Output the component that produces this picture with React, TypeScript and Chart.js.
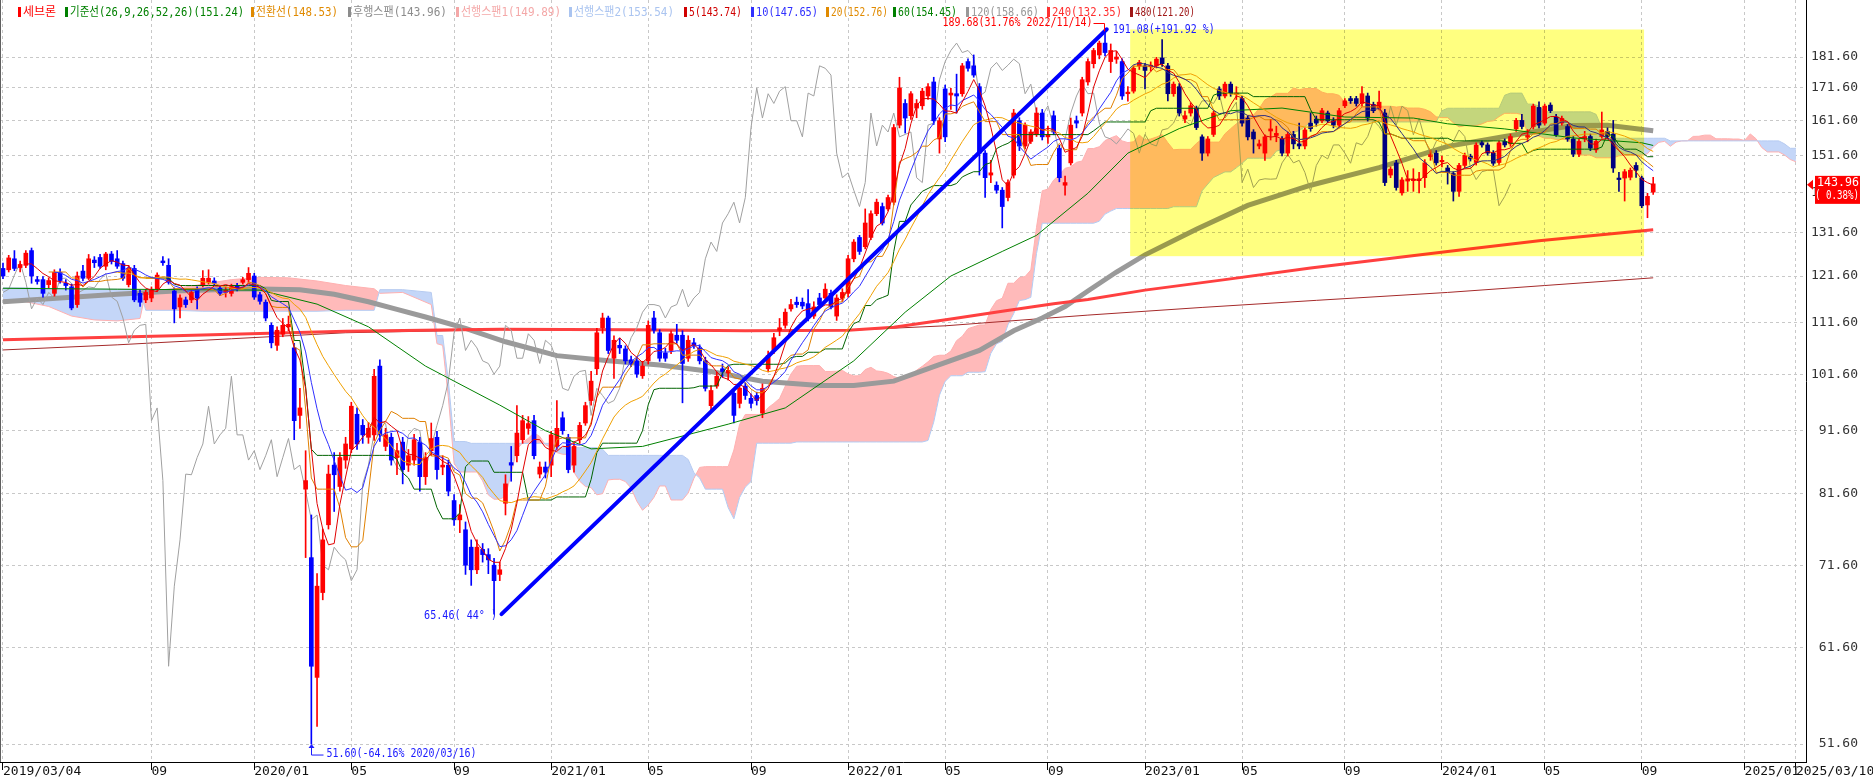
import React, { useEffect, useRef } from "react";
import { Chart, registerables } from "chart.js";

Chart.register(...registerables);

// ---- weekly candles (index 0 = 2019/03/04) ----
const OPEN = [
  123.3, 123.0, 125.5, 123.5, 124.0, 127.4, 120.8, 120.8, 119.7, 117.8,
  122.4, 120.0, 119.2, 115.4, 122.7, 121.1, 125.2, 125.8, 123.8, 126.6,
  125.5, 124.4, 119.7, 123.3, 117.8, 116.4, 116.8, 118.7, 125.0, 124.0,
  118.3, 114.9, 116.4, 116.4, 118.7, 119.7, 120.2, 120.5, 118.9, 118.0,
  117.8, 119.4, 120.2, 120.8, 121.6, 117.5, 115.9, 111.1, 107.1, 109.3,
  110.8, 106.6, 94.2, 82.3, 72.6, 58.3, 68.1, 77.1, 86.0, 82.7,
  86.8, 88.6, 94.4, 92.5, 90.5, 90.9, 103.1, 89.0, 90.5, 87.2,
  89.7, 86.0, 86.8, 89.7, 84.2, 88.3, 90.5, 85.7, 86.0, 80.6,
  77.8, 76.4, 74.0, 71.0, 73.7, 73.0, 71.6, 70.4, 80.2, 86.4,
  87.5, 90.1, 92.0, 93.3, 84.6, 85.7, 86.0, 89.0, 93.8, 90.5,
  86.0, 90.1, 92.9, 96.8, 102.6, 110.6, 112.6, 104.6, 107.1, 106.4,
  104.3, 104.1, 101.3, 104.1, 112.6, 109.6, 105.6, 106.1, 109.1, 109.1,
  104.6, 107.6, 106.6, 104.1, 95.9, 99.4, 102.6, 101.8, 98.1, 96.3,
  99.4, 97.2, 97.7, 94.6, 102.6, 106.1, 110.1, 111.1, 114.5, 115.9,
  115.9, 115.6, 113.0, 116.8, 116.8, 117.8, 113.0, 116.8, 117.8, 125.5,
  130.5, 128.3, 130.5, 136.3, 138.1, 137.5, 139.2, 160.3, 166.8, 163.1,
  165.4, 166.1, 169.1, 173.5, 156.3, 171.3, 169.4, 169.8, 169.8, 180.1,
  178.7, 172.0, 152.3, 146.3, 143.6, 142.3, 140.4, 146.3, 161.6, 154.3,
  155.6, 157.6, 163.9, 156.9, 163.1, 153.6, 143.6, 149.6, 161.6, 163.9,
  173.5, 179.4, 182.3, 186.3, 180.1, 180.9, 180.1, 169.8, 170.6, 178.7,
  178.7, 178.4, 178.7, 181.3, 178.7, 169.8, 172.0, 162.1, 163.9, 165.4,
  156.9, 152.3, 157.6, 171.3, 169.1, 172.8, 169.6, 168.3, 162.4, 158.3,
  154.3, 152.3, 158.6, 157.3, 156.3, 152.3, 157.6, 154.9, 154.3, 160.9,
  162.1, 161.6, 163.9, 161.6, 160.3, 166.1, 168.3, 168.3, 166.8, 169.1,
  166.5, 165.4, 163.9, 146.3, 149.6, 141.6, 144.7, 144.8, 144.8, 145.6,
  151.3, 152.3, 149.9, 148.2, 146.7, 142.0, 148.9, 151.4, 149.7, 155.2,
  154.6, 152.3, 149.7, 155.6, 154.9, 159.2, 161.7, 156.8, 159.9, 165.6,
  160.9, 166.3, 162.7, 160.9, 159.9, 156.3, 152.0, 156.3, 157.0, 153.2,
  157.0, 158.5, 157.7, 145.5, 145.5, 145.7, 148.9, 145.5, 138.5, 141.8,
];
const HIGH = [
  124.5, 126.3, 127.4, 125.0, 127.4, 128.0, 121.5, 121.5, 121.2, 123.0,
  123.2, 120.8, 119.8, 122.5, 124.0, 126.5, 126.0, 126.5, 127.0, 127.2,
  127.4, 125.0, 124.0, 124.0, 118.5, 118.6, 119.2, 122.3, 126.0, 125.5,
  119.0, 117.5, 117.0, 118.5, 119.2, 122.8, 123.0, 121.2, 119.5, 119.2,
  119.8, 120.0, 121.3, 123.5, 122.2, 118.0, 116.4, 111.6, 110.8, 112.5,
  113.0, 107.5, 99.0, 88.3, 78.5, 70.5, 76.5, 86.0, 88.0, 88.0,
  90.5, 96.5, 95.5, 93.5, 93.0, 102.5, 104.3, 92.0, 91.2, 89.5,
  90.5, 88.5, 91.0, 90.5, 88.0, 92.9, 91.5, 87.5, 86.8, 81.5,
  80.0, 77.5, 75.0, 75.0, 74.5, 73.8, 72.5, 72.0, 84.5, 89.0,
  95.9, 94.2, 94.0, 94.2, 86.5, 86.5, 91.5, 96.8, 94.8, 91.0,
  89.5, 93.0, 96.5, 102.1, 110.5, 113.6, 113.0, 109.0, 108.5, 107.0,
  105.0, 104.8, 104.0, 112.0, 114.0, 110.2, 106.5, 110.0, 111.3, 110.0,
  109.0, 108.5, 107.2, 104.8, 99.5, 102.0, 103.5, 103.0, 99.0, 99.8,
  100.0, 98.0, 98.3, 99.8, 106.0, 109.5, 112.5, 114.5, 116.5, 117.0,
  116.8, 118.6, 116.0, 117.8, 119.9, 118.5, 117.5, 118.8, 126.3, 130.0,
  131.0, 137.5, 137.0, 140.0, 139.0, 141.0, 160.5, 175.0, 168.0, 170.5,
  168.0, 171.5, 173.0, 175.0, 162.5, 172.5, 171.5, 176.0, 179.5, 181.0,
  182.3, 173.0, 153.0, 150.3, 144.5, 143.0, 145.0, 165.0, 162.5, 161.0,
  159.0, 165.5, 165.0, 160.0, 164.5, 154.5, 146.0, 162.4, 163.0, 175.0,
  181.0, 184.5, 187.0, 189.68, 186.0, 183.5, 181.0, 172.0, 178.7, 180.5,
  179.5, 180.0, 181.5, 187.5, 179.5, 173.5, 173.0, 164.5, 167.0, 166.0,
  157.5, 157.0, 164.5, 172.0, 173.5, 173.5, 172.0, 169.0, 163.0, 159.0,
  156.0, 157.5, 162.0, 160.0, 157.0, 158.3, 158.5, 160.9, 159.5, 163.9,
  163.0, 165.3, 164.5, 162.5, 165.3, 168.3, 169.0, 169.0, 172.0, 170.0,
  167.2, 170.6, 165.0, 148.5, 150.3, 145.6, 147.5, 148.0, 147.0, 150.5,
  153.0, 153.0, 151.5, 148.9, 147.2, 149.5, 152.3, 152.0, 155.2, 155.8,
  155.2, 153.0, 155.8, 156.3, 157.7, 162.3, 163.5, 159.0, 166.6, 167.3,
  166.6, 167.0, 163.5, 163.0, 160.5, 157.0, 156.3, 158.5, 157.7, 156.3,
  164.2, 159.5, 161.7, 147.0, 147.8, 148.2, 149.7, 146.0, 141.5, 145.7,
];
const LOW = [
  121.0, 122.5, 122.8, 122.5, 123.5, 120.0, 119.8, 117.0, 119.0, 117.2,
  120.0, 118.5, 114.3, 114.8, 120.5, 120.8, 123.5, 123.3, 123.0, 124.3,
  123.3, 120.6, 119.2, 116.0, 115.0, 115.8, 116.0, 118.2, 124.0, 119.8,
  111.6, 112.6, 114.8, 115.8, 114.5, 119.2, 119.8, 119.5, 117.3, 117.0,
  117.2, 118.3, 119.8, 120.2, 116.5, 115.5, 112.0, 106.6, 106.1, 108.8,
  110.0, 90.1, 92.0, 72.6, 51.6, 53.3, 67.2, 76.5, 79.0, 82.0,
  85.5, 88.0, 88.5, 89.5, 89.5, 90.0, 89.8, 88.3, 86.0, 84.5,
  83.1, 85.0, 86.0, 82.0, 83.0, 87.5, 83.8, 84.5, 81.3, 77.0,
  76.0, 70.4, 69.0, 70.5, 72.0, 70.5, 65.46, 69.6, 78.5, 83.5,
  86.5, 89.5, 91.0, 87.0, 84.0, 84.0, 84.2, 88.5, 91.0, 84.8,
  84.9, 89.5, 92.5, 96.0, 101.5, 109.5, 105.5, 100.8, 105.5, 103.5,
  103.0, 101.0, 100.8, 103.5, 109.5, 104.0, 104.0, 105.5, 107.5, 96.4,
  104.0, 106.5, 103.5, 98.5, 95.0, 99.0, 101.0, 100.5, 92.9, 95.5,
  97.0, 95.5, 96.0, 93.8, 102.0, 105.5, 109.0, 110.5, 114.0, 114.8,
  114.5, 112.0, 112.5, 114.8, 116.0, 114.5, 112.1, 116.0, 117.0, 124.8,
  126.5, 127.8, 130.0, 135.8, 133.5, 137.0, 138.5, 159.5, 158.0, 162.0,
  162.5, 165.0, 168.0, 160.5, 152.3, 155.5, 165.0, 163.9, 169.0, 177.0,
  175.0, 146.3, 140.4, 144.3, 141.5, 132.8, 139.5, 145.5, 153.0, 153.5,
  155.0, 157.0, 156.0, 155.0, 157.5, 144.5, 141.0, 149.0, 159.5, 163.0,
  172.5, 178.0, 181.0, 182.0, 176.5, 179.5, 168.0, 167.5, 170.0, 177.5,
  171.3, 177.0, 178.0, 178.5, 167.6, 169.0, 163.0, 161.0, 163.0, 159.0,
  150.3, 151.5, 157.0, 168.0, 168.5, 169.0, 168.0, 160.0, 156.0, 152.3,
  153.5, 150.3, 156.0, 155.5, 151.5, 151.5, 153.5, 153.5, 153.5, 158.5,
  160.0, 161.0, 161.0, 159.5, 159.5, 165.5, 166.8, 166.0, 166.0, 161.5,
  164.0, 164.8, 143.5, 145.6, 142.3, 141.0, 142.0, 142.0, 141.6, 143.0,
  150.3, 149.0, 148.5, 143.9, 139.5, 140.7, 148.2, 150.1, 149.0, 154.0,
  151.7, 148.9, 149.0, 154.0, 154.2, 158.5, 159.2, 155.5, 159.2, 159.5,
  160.3, 164.0, 157.0, 160.3, 155.6, 151.3, 151.3, 155.5, 153.0, 152.5,
  156.5, 156.3, 147.0, 142.0, 139.5, 145.0, 145.7, 137.8, 135.3, 141.2,
];
const CLOSE = [
  121.6, 125.7, 123.3, 124.2, 126.8, 121.6, 120.4, 117.8, 120.6, 122.4,
  120.6, 119.5, 114.7, 121.6, 121.1, 125.5, 124.6, 123.8, 126.6, 124.9,
  123.8, 121.1, 123.3, 116.4, 115.9, 118.0, 118.7, 121.8, 124.6, 120.2,
  114.5, 116.8, 115.4, 118.0, 116.8, 121.1, 121.1, 120.0, 117.8, 118.5,
  119.2, 119.0, 120.8, 122.2, 117.0, 116.1, 112.6, 107.6, 110.1, 111.1,
  111.3, 93.3, 95.5, 83.6, 59.5, 68.9, 75.0, 84.6, 84.5, 87.2,
  89.4, 95.8, 89.4, 90.9, 92.0, 101.2, 90.9, 90.9, 86.8, 88.3,
  85.3, 87.5, 90.1, 84.2, 87.2, 90.3, 85.3, 86.0, 82.0, 77.8,
  78.5, 71.6, 71.0, 74.0, 73.0, 72.3, 69.6, 71.0, 83.1, 86.0,
  91.2, 93.3, 92.8, 87.5, 85.7, 84.9, 90.9, 92.0, 91.6, 85.3,
  89.0, 92.5, 95.9, 100.3, 109.6, 112.6, 106.1, 108.1, 106.6, 104.1,
  103.6, 101.6, 103.1, 111.1, 110.1, 104.6, 104.6, 109.4, 108.1, 103.6,
  108.1, 107.1, 104.1, 99.0, 98.6, 101.2, 102.1, 102.3, 94.2, 99.0,
  97.7, 96.3, 96.8, 99.0, 105.1, 108.6, 110.6, 113.8, 115.4, 115.4,
  115.1, 112.6, 114.9, 115.4, 118.7, 114.9, 116.8, 118.0, 125.5, 129.4,
  127.2, 134.0, 136.3, 139.2, 134.0, 140.4, 159.6, 171.6, 162.4, 169.8,
  166.8, 170.6, 172.0, 161.6, 161.6, 156.9, 170.0, 169.1, 178.7, 177.9,
  175.7, 152.3, 145.6, 146.9, 142.3, 138.1, 144.3, 163.9, 154.3, 160.3,
  158.3, 163.9, 156.9, 157.6, 158.3, 145.6, 144.3, 160.3, 160.9, 174.2,
  180.1, 183.8, 186.3, 183.1, 183.8, 181.6, 169.1, 170.3, 177.9, 179.8,
  177.2, 178.9, 180.9, 179.4, 169.8, 172.8, 163.9, 163.1, 166.1, 159.6,
  152.3, 156.3, 163.9, 169.1, 172.8, 169.8, 170.0, 160.9, 156.9, 156.3,
  154.9, 156.9, 159.2, 157.9, 152.3, 157.6, 154.9, 154.3, 158.9, 159.3,
  160.9, 164.6, 161.6, 160.3, 164.6, 167.6, 167.6, 166.8, 169.8, 162.4,
  164.6, 167.2, 144.3, 147.9, 143.0, 145.0, 145.3, 145.2, 145.3, 149.6,
  151.9, 149.6, 150.3, 147.0, 142.0, 148.9, 151.7, 150.7, 154.6, 154.6,
  152.3, 149.5, 155.2, 154.6, 157.0, 161.7, 159.9, 157.3, 166.0, 160.3,
  166.0, 164.6, 157.5, 162.3, 156.3, 152.0, 155.6, 157.0, 153.7, 155.6,
  158.9, 157.0, 148.2, 145.1, 147.2, 147.6, 147.6, 138.3, 140.7, 143.96,
];

// ---- long moving averages: [week index, value] ----
const MA60_PTS = [
  [0, 118.9], [20, 118.7], [45, 118.5], [55, 115.5], [64, 110.8], [74, 103.1], [87, 96.0],
  [95, 91.6], [103, 88.6], [112, 89.0], [121, 91.2], [127, 92.7], [137, 95.5], [149, 104.1],
  [158, 113.8], [166, 121.6], [175, 127.2], [181, 131.0], [190, 141.5], [197, 152.3],
  [206, 159.3], [215, 164.6], [224, 165.4], [235, 162.7], [247, 162.4], [253, 160.7],
  [263, 159.2], [275, 156.6], [287, 155.2], [289, 154.45],
];
const MA120_PTS = [
  [0, 116.0], [10, 116.8], [20, 117.6], [30, 118.3], [43, 118.8], [52, 118.6], [58, 117.6],
  [64, 116.0], [69, 114.4], [74, 112.8], [81, 110.5], [88, 107.8], [97, 105.1], [106, 104.1],
  [115, 103.3], [124, 102.1], [133, 100.3], [143, 99.5], [149, 99.5], [156, 100.3],
  [163, 103.0], [171, 106.1], [177, 110.0], [182, 112.6], [186, 115.0], [190, 118.3],
  [195, 122.5], [200, 126.4], [209, 132.5], [218, 138.4], [229, 143.6], [241, 148.3],
  [253, 154.2], [263, 157.0], [275, 160.2], [281, 160.3], [289, 158.66],
];
const MA240_PTS = [
  [0, 108.2], [30, 109.0], [60, 109.9], [87, 110.3], [110, 110.2], [130, 110.0], [148, 110.1],
  [156, 110.7], [166, 112.4], [175, 114.0], [184, 115.6], [190, 116.5], [200, 118.5],
  [214, 120.8], [229, 123.4], [241, 125.3], [253, 127.2], [269, 129.7], [289, 132.35],
];
const MA480_PTS = [
  [0, 106.2], [20, 107.2], [40, 108.4], [60, 109.6], [87, 110.2], [120, 110.0], [148, 110.1],
  [165, 111.0], [190, 113.2], [210, 114.8], [230, 116.3], [253, 118.0], [270, 119.5], [289, 121.2],
];

// leading spans before enough history exists
const SPAN_EARLY_X = [0, 4, 8, 12, 16, 20, 24, 25, 30, 35, 40, 45, 50, 55, 60, 65, 66, 70, 75];
const SPAN1_EARLY = [116.5, 116.0, 115.0, 113.0, 112.2, 112.0, 112.5, 118.2, 118.8, 119.8, 120.8, 121.3, 121.2, 120.5, 119.5, 118.8, 117.8, 118.0, 115.4];
const SPAN2_EARLY = [119.0, 119.0, 118.8, 118.8, 118.7, 118.7, 118.6, 114.2, 114.2, 114.0, 114.0, 114.0, 114.0, 114.0, 114.2, 114.2, 118.6, 118.6, 118.0];

// ---- axes ----
const X_TICKS = [0, 26, 44, 61, 79, 96, 113, 131, 148, 165, 183, 200, 217, 235, 252, 270, 287, 305, 314];
const X_TICK_LABELS = ["2019/03/04", "09", "2020/01", "05", "09", "2021/01", "05", "09", "2022/01", "05", "09", "2023/01", "05", "09", "2024/01", "05", "09", "2025/01", "2025/03/10"];
const Y_TICKS = [51.6, 61.6, 71.6, 81.6, 91.6, 101.6, 111.6, 121.6, 131.6, 141.6, 151.6, 161.6, 171.6, 181.6];
const X_RANGE = [-0.525, 315.76];
const Y_RANGE = [49.93, 201.6];

// ---- drawings ----
const TREND_X = [87.3, 193.3];
const TREND_Y = [65.46, 191.08];
const BOX_X = [197.4, 287.4];
const BOX_Y = [126.1, 191.0];
const LOW_NOTE = { i: 54, value: 51.6, text: "51.60(-64.16% 2020/03/16)" };
const START_NOTE = { i: 86, value: 65.46, text: "65.46( 44° )" };
const HIGH_NOTE = { i: 193, value: 189.68, text: "189.68(31.76% 2022/11/14)" };
const END_NOTE = { text: "191.08(+191.92 %)" };
const CHANGE_TEXT = "( 0.38%)";

const LEGEND_TEXT = [
  "세브론", "기준선(26,9,26,52,26)(151.24)", "전환선(148.53)", "후행스팬(143.96)",
  "선행스팬1(149.89)", "선행스팬2(153.54)", "5(143.74)", "10(147.65)", "20(152.76)",
  "60(154.45)", "120(158.66)", "240(132.35)", "480(121.20)",
];
const LEGEND_COLOR = [
  "#ff0000", "#008000", "#e08a00", "#8c8c8c", "#f4a8a8", "#aac4f0", "#d00000", "#3030ff",
  "#e08a00", "#008000", "#999999", "#ff3030", "#a01818",
];
const LEGEND_LEFT = [18, 65, 251, 348, 456, 569, 684, 751, 826, 893, 966, 1047, 1130];
const LEGEND_WIDTH = [33, 174, 82, 94, 100, 100, 53, 62, 57, 59, 68, 70, 60];

const C_UP = "#ff0000";
const C_DOWN = "#0000ff";
const MONO = "'DejaVu Sans Mono', 'Noto Sans CJK KR', monospace";

function movingAverage(n: number) {
  const pts: { x: number; y: number }[] = [];
  for (let i = n - 1; i < CLOSE.length; i++) {
    let s = 0;
    for (let k = i - n + 1; k <= i; k++) s += CLOSE[k];
    pts.push({ x: i, y: s / n });
  }
  return pts;
}
function midRange(end: number, n: number) {
  let hi = -Infinity;
  let lo = Infinity;
  for (let k = end - n + 1; k <= end; k++) {
    hi = Math.max(hi, HIGH[k]);
    lo = Math.min(lo, LOW[k]);
  }
  return (hi + lo) / 2;
}
const toPts = (arr: number[][]) => arr.map(([x, y]) => ({ x, y }));

function buildDatasets() {
  const n = CLOSE.length;
  const colors = CLOSE.map((c, i) => (c >= OPEN[i] ? C_UP : C_DOWN));
  const tenkan: { x: number; y: number }[] = [];
  const kijun: { x: number; y: number }[] = [];
  const lagging: { x: number; y: number }[] = [];
  for (let i = 8; i < n; i++) tenkan.push({ x: i, y: midRange(i, 9) });
  for (let i = 25; i < n; i++) kijun.push({ x: i, y: midRange(i, 26) });
  for (let i = 25; i < n; i++) lagging.push({ x: i - 25, y: CLOSE[i] });
  const span1 = SPAN_EARLY_X.map((x, k) => ({ x, y: SPAN1_EARLY[k] }));
  const span2 = SPAN_EARLY_X.map((x, k) => ({ x, y: SPAN2_EARLY[k] }));
  for (let s = 51; s < n; s++) {
    span1.push({ x: s + 25, y: (midRange(s, 9) + midRange(s, 26)) / 2 });
    span2.push({ x: s + 25, y: midRange(s, 52) });
  }
  const line = (data: any, color: string, width: number, order: number, extra: any = {}) => ({
    type: "line", data, borderColor: color, borderWidth: width, pointRadius: 0,
    tension: 0, fill: false, order, ...extra,
  });
  return [
    line(span1, "#ffb0b0", 1, 100, { fill: { target: "+1", above: "rgb(255,186,186)", below: "rgb(196,214,248)" } }),
    line(span2, "#b4cbf2", 1, 99),
    line(toPts(MA480_PTS), "#a52a2a", 1, 92),
    line(toPts(MA120_PTS), "#9a9a9a", 5, 91),
    line(toPts(MA240_PTS), "#ff4040", 3, 90),
    line(lagging, "#a0a0a0", 1, 88),
    {
      type: "bar", data: CLOSE.map((_, i) => ({ x: i, y: [LOW[i], HIGH[i]] })),
      backgroundColor: colors, barThickness: 1, grouped: false, order: 50, borderWidth: 0,
    },
    {
      type: "bar", data: CLOSE.map((c, i) => ({ x: i, y: [OPEN[i], c] })),
      backgroundColor: colors, barThickness: 4, grouped: false, order: 49, borderWidth: 0, minBarLength: 1,
    },
    line(toPts(MA60_PTS), "#008000", 1, 20),
    line(kijun, "#006400", 1, 19),
    line(tenkan, "#e08000", 1, 18),
    line(movingAverage(20), "#f0a000", 1, 17),
    line(movingAverage(10), "#3030ff", 1, 16),
    line(movingAverage(5), "#e00000", 1, 15),
    line(TREND_X.map((x, k) => ({ x, y: TREND_Y[k] })), "#0000ff", 4, 1, { borderCapStyle: "round" }),
  ];
}

const decorPlugin = {
  id: "decor",
  afterDatasetsDraw(chart: any) {
    const { ctx, chartArea, scales } = chart;
    const xs = scales.x;
    const ys = scales.y;
    ctx.save();
    ctx.globalCompositeOperation = "multiply";
    ctx.fillStyle = "#ffff80";
    const x0 = xs.getPixelForValue(BOX_X[0]);
    const x1 = xs.getPixelForValue(BOX_X[1]);
    const y0 = ys.getPixelForValue(BOX_Y[1]);
    const y1 = ys.getPixelForValue(BOX_Y[0]);
    ctx.fillRect(x0, y0, x1 - x0, y1 - y0);
    ctx.restore();
    ctx.save();
    ctx.strokeStyle = "#606060";
    ctx.lineWidth = 1;
    ctx.beginPath();
    ctx.moveTo(chartArea.left + 0.5, chartArea.top);
    ctx.lineTo(chartArea.left + 0.5, chartArea.bottom);
    ctx.stroke();
    ctx.restore();
  },
  afterDraw(chart: any) {
    const { ctx, chartArea, scales } = chart;
    const xs = scales.x;
    const ys = scales.y;
    ctx.save();
    ctx.font = `12.5px ${MONO}`;
    ctx.textBaseline = "middle";

    // legend
    LEGEND_TEXT.forEach((t, k) => {
      ctx.fillStyle = LEGEND_COLOR[k];
      ctx.fillRect(LEGEND_LEFT[k], 7, 3, 10);
      ctx.textAlign = "left";
      ctx.fillText(t, LEGEND_LEFT[k] + 5, 12.5, LEGEND_WIDTH[k]);
    });

    // low note
    const blue = "#1a1aff";
    const lx = Math.round(xs.getPixelForValue(LOW_NOTE.i)) + 0.5;
    const ly = ys.getPixelForValue(LOW_NOTE.value);
    ctx.strokeStyle = blue;
    ctx.fillStyle = blue;
    ctx.lineWidth = 1;
    ctx.beginPath();
    ctx.moveTo(lx, ly + 3);
    ctx.lineTo(lx, ly + 11);
    ctx.lineTo(lx + 12, ly + 11);
    ctx.stroke();
    ctx.beginPath();
    ctx.moveTo(lx, ly);
    ctx.lineTo(lx - 3, ly + 4);
    ctx.lineTo(lx + 3, ly + 4);
    ctx.closePath();
    ctx.fill();
    ctx.textAlign = "left";
    ctx.fillText(LOW_NOTE.text, lx + 15, ly + 10, 150);

    // trend start note
    const sx = xs.getPixelForValue(START_NOTE.i);
    const sy = ys.getPixelForValue(START_NOTE.value);
    ctx.textAlign = "right";
    ctx.fillText(START_NOTE.text, sx + 3, sy + 2, 73);

    // trend end note
    const ex = xs.getPixelForValue(TREND_X[1]);
    const ey = ys.getPixelForValue(TREND_Y[1]);
    ctx.textAlign = "left";
    ctx.fillText(END_NOTE.text, ex + 6, ey, 102);

    // high note (red)
    const hx = Math.round(xs.getPixelForValue(HIGH_NOTE.i)) - 0.5;
    const hy = ys.getPixelForValue(HIGH_NOTE.value);
    ctx.fillStyle = "#ff0000";
    ctx.strokeStyle = "#ff0000";
    ctx.textAlign = "right";
    ctx.fillText(HIGH_NOTE.text, hx - 12, hy - 10.5, 150);
    ctx.beginPath();
    ctx.moveTo(hx - 11, Math.round(hy - 10.5) + 0.5);
    ctx.lineTo(hx, Math.round(hy - 10.5) + 0.5);
    ctx.lineTo(hx, hy - 2);
    ctx.stroke();

    // last price tag
    const last = CLOSE[CLOSE.length - 1];
    const py = ys.getPixelForValue(last);
    const r = chartArea.right;
    ctx.fillStyle = "#ff0000";
    ctx.beginPath();
    ctx.moveTo(r + 1, py + 1);
    ctx.lineTo(r + 7, py - 4);
    ctx.lineTo(r + 7, py + 6);
    ctx.closePath();
    ctx.fill();
    ctx.fillRect(r + 9, py - 8, 45, 28);
    ctx.fillStyle = "#ffffff";
    ctx.textAlign = "right";
    ctx.font = `12px ${MONO}`;
    ctx.fillText(last.toFixed(2), r + 53, py - 1, 42);
    ctx.fillText(CHANGE_TEXT, r + 53, py + 12, 44);
    ctx.restore();
  },
};

export default function App() {
  const ref = useRef<HTMLCanvasElement | null>(null);
  useEffect(() => {
    if (!ref.current) return;
    const chart = new Chart(ref.current, {
      type: "line",
      data: { datasets: buildDatasets() as any },
      options: {
        animation: false,
        responsive: false,
        devicePixelRatio: 1,
        events: [],
        layout: { padding: { left: 0, top: 0, bottom: 0, right: 15 } },
        plugins: { legend: { display: false }, tooltip: { enabled: false } },
        scales: {
          x: {
            type: "linear",
            min: X_RANGE[0],
            max: X_RANGE[1],
            offset: false,
            bounds: "data",
            afterBuildTicks: (s: any) => {
              s.ticks = X_TICKS.map((v) => ({ value: v }));
            },
            afterFit: (s: any) => {
              s.height = 18;
              s.paddingLeft = 0;
              s.paddingRight = 0;
              s.paddingTop = 0;
              s.paddingBottom = 0;
            },
            ticks: {
              autoSkip: false,
              maxRotation: 0,
              minRotation: 0,
              align: "start",
              padding: -6,
              color: "#111",
              font: { family: MONO, size: 13 },
              callback: (v: any) => {
                const k = X_TICKS.indexOf(Number(v));
                return k >= 0 ? X_TICK_LABELS[k] : "";
              },
            },
            grid: {
              color: "#c8c8c8",
              drawTicks: true,
              tickLength: 8,
              tickColor: "#000",
              tickWidth: 1,
              tickBorderDash: [],
              offset: false,
            },
            border: { display: true, color: "#000", width: 1, dash: [3, 3] },
          } as any,
          y: {
            type: "logarithmic",
            position: "right",
            min: Y_RANGE[0],
            max: Y_RANGE[1],
            bounds: "data",
            afterBuildTicks: (s: any) => {
              s.ticks = Y_TICKS.map((v) => ({ value: v }));
            },
            afterFit: (s: any) => {
              s.width = 52;
              s.paddingTop = 0;
              s.paddingBottom = 0;
              s.paddingLeft = 0;
              s.paddingRight = 0;
            },
            ticks: {
              autoSkip: false,
              crossAlign: "far",
              padding: 5,
              color: "#333",
              font: { family: MONO, size: 13 },
              callback: (v: any) => Number(v).toFixed(2),
            },
            grid: { color: "#c8c8c8", drawTicks: false },
            border: { display: true, color: "#000", width: 1, dash: [3, 3] },
          } as any,
        },
      },
      plugins: [decorPlugin],
    });
    return () => chart.destroy();
  }, []);
  return (
    <div style={{ position: "absolute", left: 0, top: 0, width: 1873, height: 780, background: "#fff" }}>
      <canvas ref={ref} width={1873} height={780} style={{ display: "block" }} />
    </div>
  );
}
